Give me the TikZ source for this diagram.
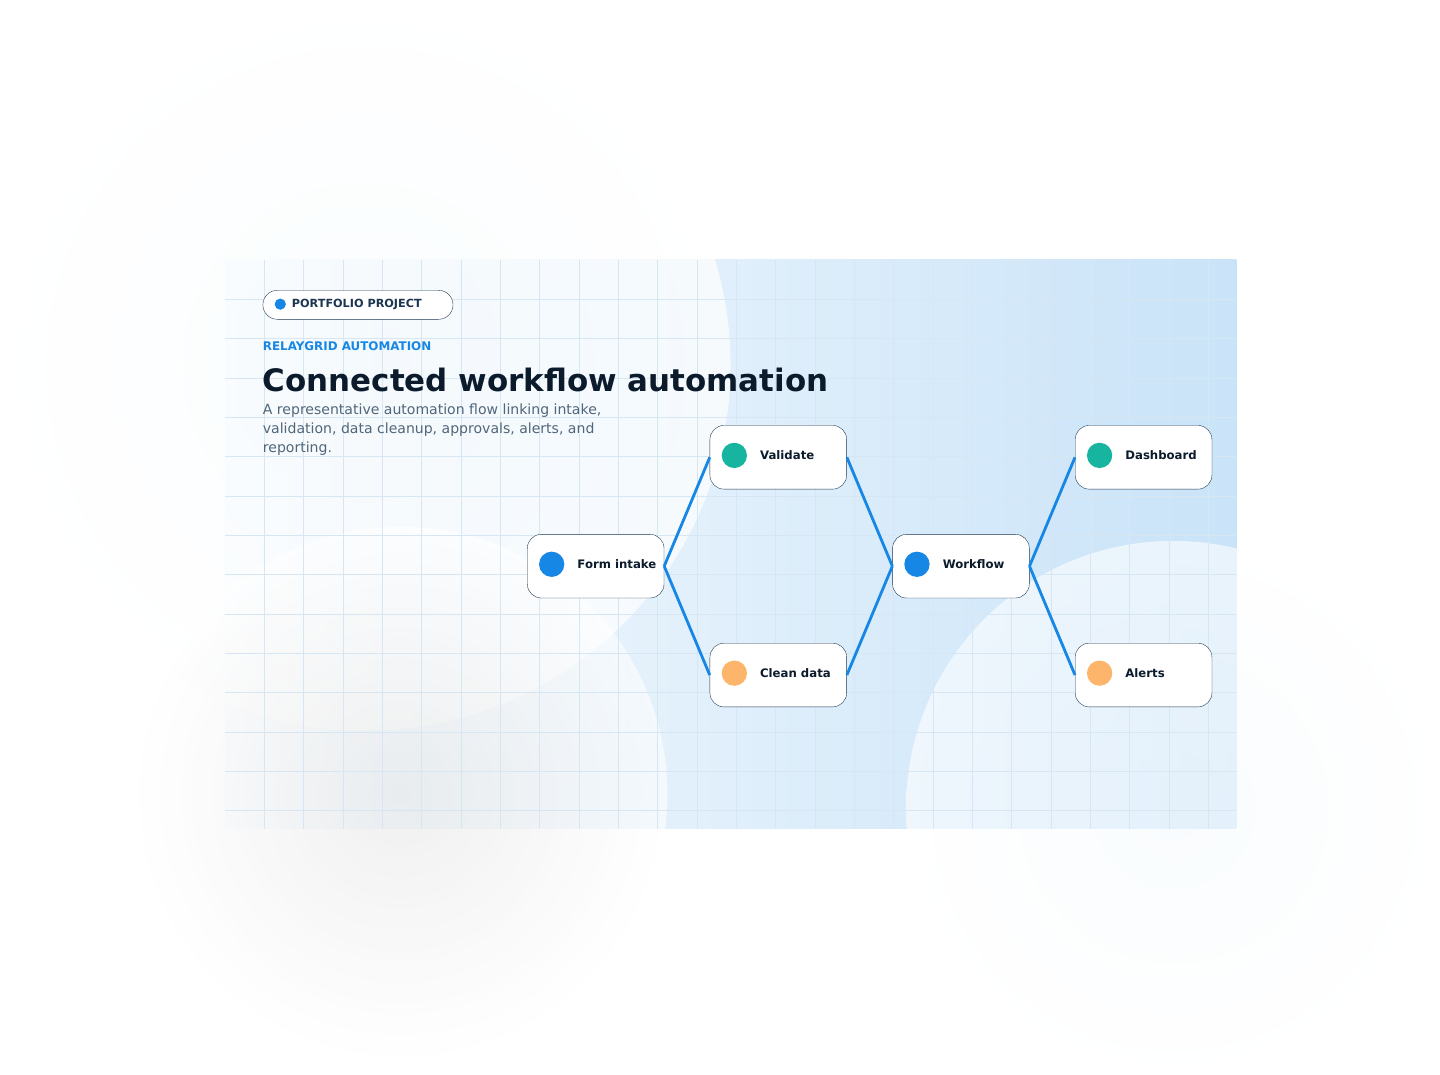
\documentclass[tikz,border=0pt]{standalone}
\usepackage{fontspec}
\setmainfont{DejaVu Sans}
\usetikzlibrary{positioning}
\definecolor{ink}{HTML}{0B1B2B}
\definecolor{navy}{HTML}{1C3550}
\definecolor{accent}{HTML}{1787E6}
\definecolor{teal}{HTML}{17B5A0}
\definecolor{peach}{HTML}{FDB56C}
\definecolor{slate}{HTML}{51667A}
\definecolor{gridc}{HTML}{D6E6F2}
\definecolor{bgL}{HTML}{F7FBFE}
\definecolor{bgR}{HTML}{C9E3F8}
\tikzset{
    stage/.style={rectangle, draw=navy, fill=white, rounded corners=15pt, minimum width=146pt, minimum height=68pt},
    link/.style={accent, line width=3pt},
    dot/.style={circle, minimum size=27pt, inner sep=0pt}
}
\begin{document}
\begin{tikzpicture}[x=0.75pt, y=-0.75pt,
        stagetext/.style={font=\bfseries\fontsize{12.5pt}{15pt}\selectfont, text=ink, anchor=west}]
    % background
    \shade[left color=bgL, right color=bgR] (0,0) rectangle (1440,810);
    \shade[inner color=bgL, outer color=bgL!0, opacity=0.7] (200,150) circle[radius=520];
    \shade[inner color=gray!20, outer color=gray!0, opacity=0.6] (250,760) circle[radius=380];
    \shade[inner color=white!80!bgR, outer color=bgR!0, opacity=0.6] (1350,780) circle[radius=380];
    \foreach \i in {56,112,...,1400} \draw[gridc, line width=0.6pt] (\i,0) -- (\i,810);
    \foreach \j in {56,112,...,800} \draw[gridc, line width=0.6pt] (0,\j) -- (1440,\j);
    \useasboundingbox (0,0) rectangle (1440,810);

    % header
    \node[draw=navy, fill=white, rounded corners=15.5pt, minimum width=203pt, minimum height=31pt, anchor=north west] (pill) at (54,43) {};
    \node[circle, fill=accent, minimum size=12pt, inner sep=0pt] (pilldot) at (79,63) {};
    \node[right=6pt of pilldot, inner sep=0pt, font=\bfseries\fontsize{12pt}{14pt}\selectfont, text=navy] (tag) {PORTFOLIO PROJECT};
    \node[anchor=west, inner sep=0pt, font=\bfseries\fontsize{12.7pt}{15pt}\selectfont, text=accent] (brand) at (54,123) {RELAYGRID AUTOMATION};
    \node[anchor=west, inner sep=0pt, font=\bfseries\fontsize{33pt}{38pt}\selectfont, text=ink] (title) at (54,171) {Connected workflow automation};
    \node[anchor=north west, inner sep=0pt, align=left, font=\fontsize{15pt}{20.5pt}\selectfont, text=slate] (sub) at (54,204)
        {A representative automation flow linking intake,\\validation, data cleanup, approvals, alerts, and\\reporting.};

    % stages
    \node[stage] (intake) at (528,436) {};
    \node[stage] (validate) at (788,281) {};
    \node[stage] (clean) at (788,591) {};
    \node[stage] (flow) at (1048,436) {};
    \node[stage] (dash) at (1308,281) {};
    \node[stage] (alerts) at (1308,591) {};

    % dots and labels
    \foreach \n/\c/\t in {intake/accent/Form intake, validate/teal/Validate, clean/peach/Clean data,
                          flow/accent/Workflow, dash/teal/Dashboard, alerts/peach/Alerts}{
        \node[dot, fill=\c, xshift=35*0.75pt, yshift=2pt] (\n-dot) at (\n.west) {};
        \node[stagetext, xshift=67*0.75pt, yshift=2pt] (\n-txt) at (\n.west) {\t};
    }

    % links
    \draw[link] (intake.east) -- (validate.west);
    \draw[link] (intake.east) -- (clean.west);
    \draw[link] (validate.east) -- (flow.west);
    \draw[link] (clean.east) -- (flow.west);
    \draw[link] (flow.east) -- (dash.west);
    \draw[link] (flow.east) -- (alerts.west);
\end{tikzpicture}
\end{document}
